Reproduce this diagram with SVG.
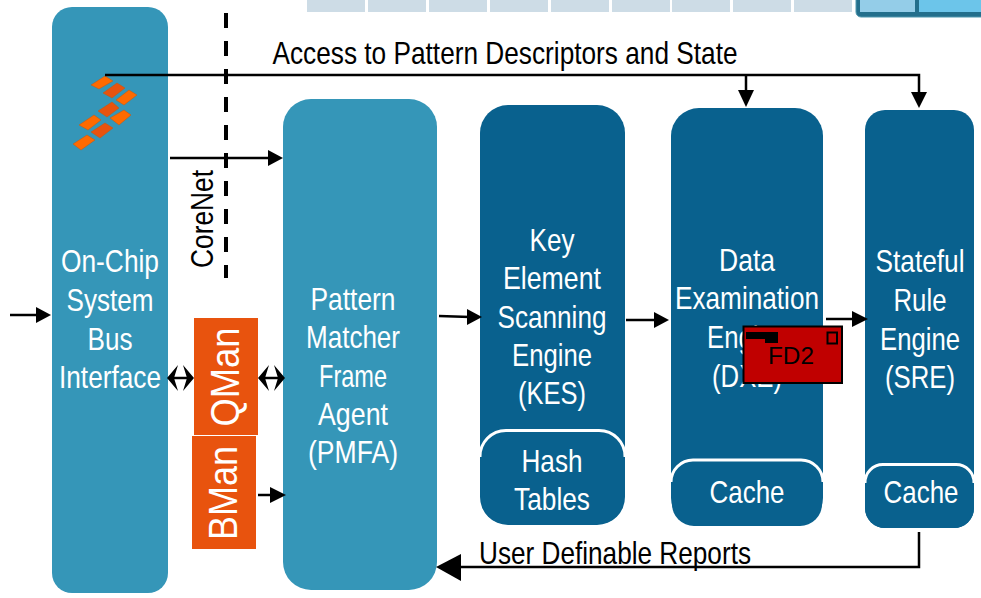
<svg xmlns="http://www.w3.org/2000/svg" width="981" height="598" viewBox="0 0 981 598">
<style>
text{font-family:"Liberation Sans",Arial,sans-serif;font-size:32px;text-anchor:middle}
.w{fill:#fff}
.k{fill:#000}
.lt{fill:#3596b8}
.dk{fill:#09618e}
.arc{fill:none;stroke:#fff;stroke-width:3}
.strip{fill:#cddce6}
.or{fill:#e8530e}
.c{fill:none;stroke:#000;stroke-width:2.5}
.h{fill:#000;stroke:none}
.l1{fill:#ff6a00;stroke:#c9560a;stroke-width:.5}
.l2{fill:#e8530e;stroke:#c9560a;stroke-width:.5}
</style>
<g id="strip">
<rect class="strip" x="307" y="0" width="58" height="12"/><rect class="strip" x="368" y="0" width="58" height="12"/><rect class="strip" x="429" y="0" width="58" height="12"/><rect class="strip" x="490" y="0" width="58" height="12"/><rect class="strip" x="551" y="0" width="58" height="12"/><rect class="strip" x="612" y="0" width="58" height="12"/><rect class="strip" x="672" y="0" width="58" height="12"/><rect class="strip" x="733" y="0" width="58" height="12"/><rect class="strip" x="794" y="0" width="58" height="12"/>
<rect x="856" y="-12" width="140" height="29" rx="5" fill="#236f8c" stroke="#4f97ae" stroke-width="1"/>
<rect x="860" y="0" width="55" height="12" fill="#94cde8"/>
<rect x="919" y="0" width="62" height="12" fill="#6cc5ea"/>
</g>
<g id="bus">
<rect class="lt" x="52" y="7" width="116" height="586" rx="20"/>
<g id="logo">
<path class="l1" d="M91 85L105 76L113 81L99 89Z"/>
<path class="l2" d="M103 93L117 83L125 88L112 98Z"/>
<path class="l1" d="M116 100L129 90L137 95L124 105Z"/>
<path class="l2" d="M98 111L112 102L119 108L107 117Z"/>
<path class="l1" d="M110 118L124 110L131 115L119 125Z"/>
<path class="l1" d="M79 125L94 115L101 120L88 130Z"/>
<path class="l2" d="M91 132L105 123L113 128L100 138Z"/>
<path class="l1" d="M73 144L87 135L95 140L81 150Z"/>
</g>
<text class="w" x="110" y="272" textLength="98" lengthAdjust="spacingAndGlyphs">On-Chip</text>
<text class="w" x="110" y="311" textLength="87" lengthAdjust="spacingAndGlyphs">System</text>
<text class="w" x="110" y="350" textLength="45" lengthAdjust="spacingAndGlyphs">Bus</text>
<text class="w" x="110" y="388" textLength="102" lengthAdjust="spacingAndGlyphs">Interface</text>
</g>
<g id="pmfa">
<rect class="lt" x="283" y="99" width="154" height="491" rx="28"/>
<text class="w" x="353" y="310" textLength="85" lengthAdjust="spacingAndGlyphs">Pattern</text>
<text class="w" x="353" y="348" textLength="94" lengthAdjust="spacingAndGlyphs">Matcher</text>
<text class="w" x="353" y="387" textLength="68" lengthAdjust="spacingAndGlyphs">Frame</text>
<text class="w" x="353" y="425" textLength="70" lengthAdjust="spacingAndGlyphs">Agent</text>
<text class="w" x="353" y="463" textLength="90" lengthAdjust="spacingAndGlyphs">(PMFA)</text>
</g>
<g id="kes">
<rect class="dk" x="480" y="105" width="145" height="420" rx="28"/>
<text class="w" x="552" y="251" textLength="45" lengthAdjust="spacingAndGlyphs">Key</text>
<text class="w" x="552" y="289" textLength="98" lengthAdjust="spacingAndGlyphs">Element</text>
<text class="w" x="552" y="328" textLength="109" lengthAdjust="spacingAndGlyphs">Scanning</text>
<text class="w" x="552" y="366" textLength="80" lengthAdjust="spacingAndGlyphs">Engine</text>
<text class="w" x="552" y="404" textLength="68" lengthAdjust="spacingAndGlyphs">(KES)</text>
<rect class="dk" x="481" y="431" width="143" height="93" rx="26"/>
<path class="arc" d="M480 457A26 26 0 0 1 506 430.500H599A26 26 0 0 1 625 457"/>
<text class="w" x="552" y="472" textLength="61" lengthAdjust="spacingAndGlyphs">Hash</text>
<text class="w" x="552" y="510" textLength="76" lengthAdjust="spacingAndGlyphs">Tables</text>
</g>
<g id="dxe">
<rect class="dk" x="671" y="108" width="152" height="418" rx="28"/>
<text class="w" x="747" y="271" textLength="56" lengthAdjust="spacingAndGlyphs">Data</text>
<text class="w" x="747" y="309" textLength="144" lengthAdjust="spacingAndGlyphs">Examination</text>
<text class="w" x="747" y="348" textLength="80" lengthAdjust="spacingAndGlyphs">Engine</text>
<text class="w" x="747" y="387" textLength="70" lengthAdjust="spacingAndGlyphs">(DXE)</text>
<rect class="dk" x="672" y="460" width="150" height="66" rx="22"/>
<path class="arc" d="M671 482A22 22 0 0 1 693 460H801A22 22 0 0 1 823 482"/>
<text class="w" x="747" y="503" textLength="75" lengthAdjust="spacingAndGlyphs">Cache</text>
</g>
<g id="sre">
<rect class="dk" x="865" y="110" width="109" height="418" rx="20"/>
<text class="w" x="920" y="272" textLength="89" lengthAdjust="spacingAndGlyphs">Stateful</text>
<text class="w" x="920" y="311" textLength="53" lengthAdjust="spacingAndGlyphs">Rule</text>
<text class="w" x="920" y="350" textLength="80" lengthAdjust="spacingAndGlyphs">Engine</text>
<text class="w" x="920" y="388" textLength="70" lengthAdjust="spacingAndGlyphs">(SRE)</text>
<rect class="dk" x="865" y="465" width="109" height="63" rx="20"/>
<path class="arc" d="M865 483A18 18 0 0 1 883 464.500H956A18 18 0 0 1 974 483"/>
<text class="w" x="921" y="503" textLength="75" lengthAdjust="spacingAndGlyphs">Cache</text>
</g>
<g id="qman">
<rect class="or" x="194" y="318" width="64" height="117"/>
<text class="w" transform="translate(239 377) rotate(-90)" style="font-size:40px" textLength="99" lengthAdjust="spacingAndGlyphs">QMan</text>
</g>
<g id="bman">
<rect class="or" x="192" y="436" width="64" height="113"/>
<text class="w" transform="translate(237 493) rotate(-90)" style="font-size:40px" textLength="94" lengthAdjust="spacingAndGlyphs">BMan</text>
</g>
<g id="fd2">
<rect x="743.500" y="326.500" width="98.500" height="56.500" fill="#c00000" stroke="#000" stroke-width="2"/>
<path d="M746 332H778V343H765V339H746Z" fill="#000"/>
<rect x="827.500" y="332.500" width="9.500" height="11" fill="none" stroke="#000" stroke-width="2"/>
<text class="k" x="791" y="364" style="font-size:24px" textLength="46" lengthAdjust="spacingAndGlyphs">FD2</text>
</g>
<g id="connectors">
<path d="M226 13V278" fill="none" stroke="#000" stroke-width="4" stroke-dasharray="15 13"/>
<path class="c" d="M105 75H919V94"/>
<path class="c" d="M746 75V90"/>
<path class="h" d="M738 90H754L746 107Z"/>
<path class="h" d="M911 92H927L919 108Z"/>
<path class="c" d="M170 158H270"/>
<path class="h" d="M268 150L283 158L268 166Z"/>
<path class="c" d="M10 315H38"/>
<path class="h" d="M36 307L51 315L36 323Z"/>
<path class="c" d="M439 316L470 317"/>
<path class="h" d="M467 309L482 317L467 325Z"/>
<path class="c" d="M626 320H657"/>
<path class="h" d="M654 312L669 320L654 328Z"/>
<path class="c" d="M826 319H853"/>
<path class="h" d="M852 311L868 319L852 327Z"/>
<path class="c" d="M258 495H274"/>
<path class="h" d="M270 487L286 495L270 503Z"/>
<path class="c" d="M172 378H190"/>
<path class="h" d="M167 378L178 365L174 378L178 391Z"/>
<path class="h" d="M194 378L183 365L187 378L183 391Z"/>
<path class="c" d="M263 378H280"/>
<path class="h" d="M258 378L269 365L265 378L269 391Z"/>
<path class="h" d="M285 378L274 365L278 378L274 391Z"/>
<path class="c" d="M919 532V567H455"/>
<path class="h" d="M461 554L436 567L461 581Z"/>
</g>
<g id="labels">
<text class="k" x="505" y="64" textLength="465" lengthAdjust="spacingAndGlyphs">Access to Pattern Descriptors and State</text>
<text class="k" x="615" y="564" textLength="272" lengthAdjust="spacingAndGlyphs">User Definable Reports</text>
<text class="k" transform="translate(213 219) rotate(-90)" textLength="98" lengthAdjust="spacingAndGlyphs">CoreNet</text>
</g>
</svg>
